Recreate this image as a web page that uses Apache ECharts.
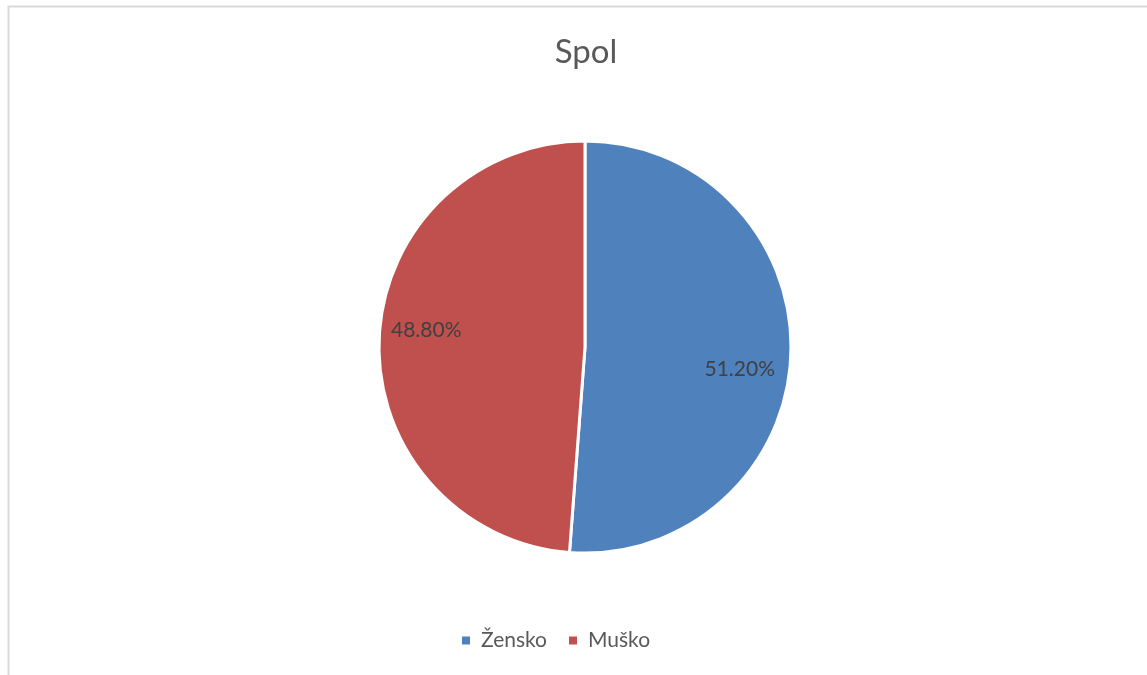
<!DOCTYPE html>
<html>
<head>
<meta charset="utf-8">
<script src="https://cdn.jsdelivr.net/npm/echarts@6/dist/echarts.min.js"></script>
<style>
html,body{margin:0;padding:0;background:#fff;}
#c{width:1147px;height:675px;}
</style>
</head>
<body>
<div id="c"></div>
<script>
const title = 'Spol';
const categories = ['Žensko', 'Muško'];
const values = [51.2, 48.8];
const colors = ['#4F81BD', '#C0504D'];

const FONT = 'Lato, "Open Sans", "Noto Sans", sans-serif';
const data = categories.map((n, i) => ({ name: n, value: values[i], itemStyle: { color: colors[i] } }));

const chart = echarts.init(document.getElementById('c'), null, { renderer: 'canvas' });
chart.setOption({
  animation: false,
  backgroundColor: '#fff',
  graphic: [{
    type: 'rect',
    shape: { x: 8.5, y: 6.5, width: 1150, height: 700 },
    style: { fill: 'none', stroke: '#d9d9d9', lineWidth: 2 },
    silent: true, z: -1
  }],
  title: {
    text: title, left: 581, top: 31, textAlign: 'center',
    textStyle: { fontFamily: FONT, fontSize: 33, fontWeight: 'normal', color: '#595959' }
  },
  legend: {
    bottom: 19, left: 455,
    itemWidth: 10, itemHeight: 10, itemGap: 20, icon: 'rect',
    textStyle: { fontFamily: FONT, fontSize: 21, color: '#595959', padding: [0, 0, 0, 5] },
    data: categories
  },
  series: [{
    type: 'pie',
    center: [585, 347],
    radius: [0, 206],
    startAngle: 90,
    clockwise: true,
    data: data,
    itemStyle: { borderColor: '#fff', borderWidth: 3 },
    label: { show: false },
    labelLine: { show: false },
    emphasis: { disabled: true }
  }, {
    type: 'pie',
    center: [583, 350],
    radius: [104, 206],
    startAngle: 85,
    clockwise: true,
    silent: true,
    data: categories.map((n, i) => ({ name: n, value: values[i], itemStyle: { color: 'rgba(0,0,0,0)' } })),
    label: {
      show: true, position: 'inside',
      formatter: p => p.value.toFixed(2) + '%',
      fontFamily: FONT, fontSize: 21, color: '#404040'
    },
    labelLine: { show: false },
    emphasis: { disabled: true },
    tooltip: { show: false }
  }]
});
</script>
</body>
</html>
